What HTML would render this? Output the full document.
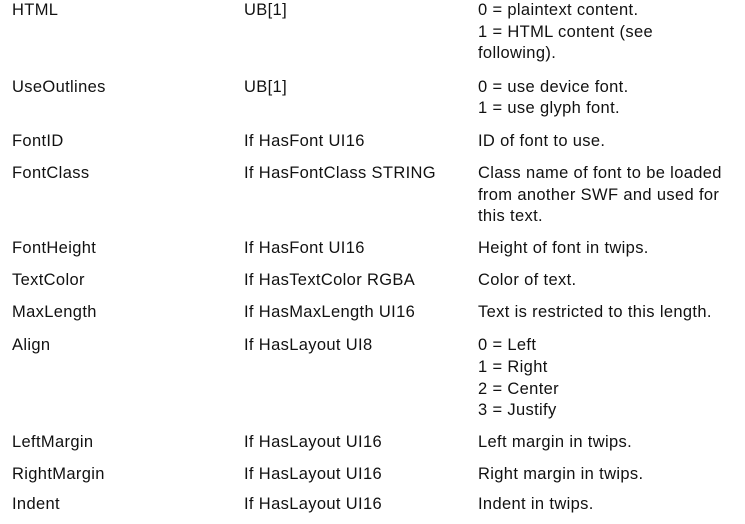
<!DOCTYPE html>
<html><head><meta charset="utf-8"><style>
html,body{margin:0;padding:0;background:#fff;}
body{width:745px;height:524px;position:relative;overflow:hidden;font-family:"Liberation Sans",sans-serif;font-size:16.5px;color:#111;}
div{position:absolute;line-height:16px;white-space:nowrap;letter-spacing:0.35px;}
</style></head><body>
<div style="left:12px;top:2px">HTML</div>
<div style="left:244px;top:2px">UB[1]</div>
<div style="left:478px;top:2px">0 = plaintext content.</div>
<div style="left:478px;top:24px">1 = HTML content (see</div>
<div style="left:478px;top:45px">following).</div>

<div style="left:12px;top:79px">UseOutlines</div>
<div style="left:244px;top:79px">UB[1]</div>
<div style="left:478px;top:79px">0 = use device font.</div>
<div style="left:478px;top:100px">1 = use glyph font.</div>

<div style="left:12px;top:133px">FontID</div>
<div style="left:244px;top:133px">If HasFont UI16</div>
<div style="left:478px;top:133px">ID of font to use.</div>

<div style="left:12px;top:165px">FontClass</div>
<div style="left:244px;top:165px">If HasFontClass STRING</div>
<div style="left:478px;top:165px">Class name of font to be loaded</div>
<div style="left:478px;top:187px">from another SWF and used for</div>
<div style="left:478px;top:208px">this text.</div>

<div style="left:12px;top:240px">FontHeight</div>
<div style="left:244px;top:240px">If HasFont UI16</div>
<div style="left:478px;top:240px">Height of font in twips.</div>

<div style="left:12px;top:272px">TextColor</div>
<div style="left:244px;top:272px">If HasTextColor RGBA</div>
<div style="left:478px;top:272px">Color of text.</div>

<div style="left:12px;top:304px">MaxLength</div>
<div style="left:244px;top:304px">If HasMaxLength UI16</div>
<div style="left:478px;top:304px">Text is restricted to this length.</div>

<div style="left:12px;top:337px">Align</div>
<div style="left:244px;top:337px">If HasLayout UI8</div>
<div style="left:478px;top:337px">0 = Left</div>
<div style="left:478px;top:359px">1 = Right</div>
<div style="left:478px;top:381px">2 = Center</div>
<div style="left:478px;top:402px">3 = Justify</div>

<div style="left:12px;top:434px">LeftMargin</div>
<div style="left:244px;top:434px">If HasLayout UI16</div>
<div style="left:478px;top:434px">Left margin in twips.</div>

<div style="left:12px;top:466px">RightMargin</div>
<div style="left:244px;top:466px">If HasLayout UI16</div>
<div style="left:478px;top:466px">Right margin in twips.</div>

<div style="left:12px;top:496px">Indent</div>
<div style="left:244px;top:496px">If HasLayout UI16</div>
<div style="left:478px;top:496px">Indent in twips.</div>
</body></html>
